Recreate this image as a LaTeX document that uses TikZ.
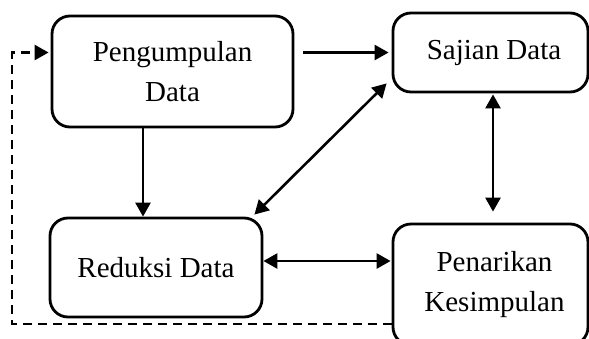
\documentclass[tikz,border=0pt]{standalone}
\usepackage{fontspec}
\setmainfont{Liberation Serif}
\usetikzlibrary{arrows.meta,positioning,calc}

\begin{document}
\begin{tikzpicture}
[
	x=1pt,y=-1pt,
	box/.style={rectangle,draw=black,line width=2.8pt,rounded corners=18pt,align=center,inner sep=0pt,font=\fontsize{29}{40}\selectfont},
	link/.style={line width=2.6pt,-{Triangle[length=14pt,width=15pt]}},
	both/.style={line width=2.6pt,{Triangle[length=14pt,width=15pt]}-{Triangle[length=14pt,width=15pt]}},
	back/.style={line width=2.6pt,dash pattern=on 9pt off 6pt,-{Triangle[length=14pt,width=15pt]}},
]
	\useasboundingbox (0,0) rectangle (589,338);
	\clip (0,0) rectangle (589,338);

	\begin{scope}
		\node[box,minimum width=241pt,minimum height=111pt] (peng) at (172.5,71.5) {Pengumpulan\\Data};
		\node[box,minimum width=195pt,minimum height=79pt] (sajian) at (490.5,52.5) {\hspace{7pt}Sajian Data};
		\node[box,minimum width=212pt,minimum height=99pt] (red) at (156,267.5) {Reduksi Data};
		\node[box,minimum width=195pt,minimum height=121pt] (pen) at (490.5,284.5) {\hspace{8pt}Penarikan\\\hspace{8pt}Kesimpulan};
	\end{scope}

	\begin{scope}
		\coordinate (fb) at (12,324);
		\draw[link,shorten <=9pt,shorten >=3pt] (peng.east |- sajian.west) -- (sajian.west);
		\draw[link] ([xshift=-29.5pt]peng.south) -- ([xshift=-13pt]red.north);
		\draw[both] ([xshift=-9pt,yshift=2pt]red.north east) -- ([xshift=-5pt,yshift=10pt]sajian.south west);
		\draw[both,shorten <=1pt,shorten >=11pt] ([xshift=2.5pt]sajian.south) -- ([xshift=2.5pt]pen.north);
		\draw[both,shorten >=1pt] ([yshift=6.5pt]red.east) -- ([yshift=23.5pt]pen.west);
		\draw[back,shorten >=2pt] (pen.west |- fb) -- (fb) |- (peng.west |- sajian.west);
	\end{scope}
\end{tikzpicture}
\end{document}
